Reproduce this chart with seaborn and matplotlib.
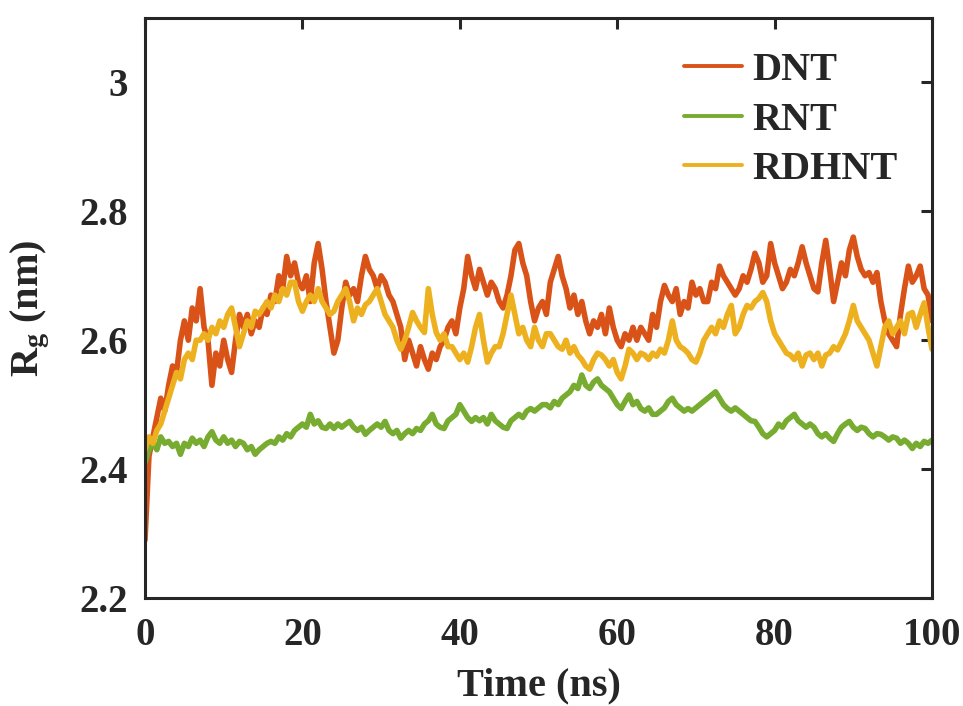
import numpy as np
import pandas as pd
import matplotlib
matplotlib.use("Agg")
import matplotlib.pyplot as plt
import seaborn as sns

# ---- data (Rg in nm, sampled every 0.5 ns) ----
dnt = [2.29, 2.42, 2.45, 2.48, 2.51, 2.49, 2.53, 2.56, 2.55, 2.60,
       2.63, 2.60, 2.65, 2.63, 2.68, 2.62, 2.60, 2.53, 2.58, 2.56,
       2.60, 2.57, 2.55, 2.60, 2.64, 2.62, 2.64, 2.61, 2.63, 2.62,
       2.65, 2.64, 2.67, 2.66, 2.70, 2.68, 2.73, 2.70, 2.72, 2.69,
       2.68, 2.70, 2.66, 2.72, 2.75, 2.71, 2.66, 2.62, 2.58, 2.60,
       2.65, 2.69, 2.67, 2.68, 2.66, 2.70, 2.73, 2.71, 2.70, 2.68,
       2.70, 2.69, 2.67, 2.66, 2.64, 2.62, 2.57, 2.60, 2.58, 2.56,
       2.59, 2.57, 2.555, 2.58, 2.57, 2.59, 2.60, 2.62, 2.63, 2.61,
       2.65, 2.68, 2.73, 2.70, 2.68, 2.71, 2.69, 2.67, 2.69, 2.68,
       2.66, 2.65, 2.67, 2.70, 2.74, 2.75, 2.72, 2.70, 2.66, 2.63,
       2.65, 2.66, 2.64, 2.69, 2.71, 2.73, 2.70, 2.68, 2.65, 2.67,
       2.64, 2.66, 2.63, 2.61, 2.63, 2.62, 2.64, 2.61, 2.65, 2.62,
       2.60, 2.59, 2.61, 2.60, 2.62, 2.60, 2.62, 2.61, 2.60, 2.64,
       2.62, 2.66, 2.685, 2.67, 2.66, 2.68, 2.64, 2.66, 2.65, 2.69,
       2.67, 2.68, 2.66, 2.66, 2.69, 2.68, 2.715, 2.70, 2.69, 2.68,
       2.67, 2.68, 2.70, 2.69, 2.71, 2.735, 2.72, 2.69, 2.70, 2.75,
       2.72, 2.70, 2.68, 2.69, 2.71, 2.70, 2.72, 2.745, 2.72, 2.70,
       2.68, 2.675, 2.72, 2.755, 2.71, 2.66, 2.69, 2.72, 2.70, 2.74,
       2.76, 2.73, 2.71, 2.70, 2.705, 2.69, 2.705, 2.66, 2.63, 2.61,
       2.60, 2.59, 2.64, 2.68, 2.715, 2.69, 2.70, 2.715, 2.68, 2.67,
       2.63]

rnt = [2.41, 2.43, 2.44, 2.43, 2.45, 2.44, 2.443, 2.435, 2.44, 2.423,
       2.44, 2.435, 2.448, 2.44, 2.445, 2.435, 2.45, 2.458, 2.445, 2.44,
       2.45, 2.44, 2.445, 2.435, 2.443, 2.44, 2.43, 2.435, 2.423, 2.43,
       2.435, 2.44, 2.443, 2.44, 2.45, 2.445, 2.455, 2.45, 2.46, 2.465,
       2.47, 2.465, 2.485, 2.47, 2.475, 2.465, 2.463, 2.47, 2.463, 2.47,
       2.465, 2.47, 2.474, 2.465, 2.46, 2.465, 2.454, 2.46, 2.465, 2.47,
       2.465, 2.474, 2.46, 2.455, 2.46, 2.448, 2.455, 2.46, 2.455, 2.463,
       2.46, 2.47, 2.475, 2.485, 2.47, 2.465, 2.463, 2.475, 2.48, 2.485,
       2.50, 2.49, 2.48, 2.474, 2.48, 2.475, 2.48, 2.47, 2.485, 2.475,
       2.47, 2.465, 2.463, 2.475, 2.48, 2.485, 2.48, 2.49, 2.494, 2.49,
       2.495, 2.50, 2.50, 2.495, 2.505, 2.50, 2.51, 2.515, 2.52, 2.53,
       2.525, 2.546, 2.53, 2.525, 2.535, 2.54, 2.53, 2.525, 2.52, 2.51,
       2.50, 2.494, 2.505, 2.515, 2.50, 2.505, 2.494, 2.49, 2.495, 2.485,
       2.485, 2.49, 2.495, 2.505, 2.51, 2.50, 2.495, 2.49, 2.494, 2.49,
       2.495, 2.50, 2.505, 2.51, 2.515, 2.52, 2.51, 2.50, 2.494, 2.49,
       2.495, 2.49, 2.485, 2.48, 2.475, 2.474, 2.465, 2.455, 2.45, 2.455,
       2.46, 2.47, 2.465, 2.475, 2.48, 2.485, 2.475, 2.47, 2.465, 2.47,
       2.465, 2.455, 2.45, 2.455, 2.448, 2.443, 2.455, 2.465, 2.47, 2.474,
       2.465, 2.46, 2.465, 2.463, 2.455, 2.45, 2.455, 2.454, 2.45, 2.445,
       2.45, 2.448, 2.44, 2.445, 2.44, 2.432, 2.44, 2.435, 2.443, 2.44,
       2.445]

rdhnt = [2.43, 2.45, 2.44, 2.46, 2.47, 2.49, 2.51, 2.53, 2.55, 2.54,
         2.57, 2.58, 2.57, 2.60, 2.60, 2.61, 2.60, 2.62, 2.61, 2.63,
         2.62, 2.64, 2.65, 2.62, 2.59, 2.61, 2.63, 2.62, 2.645, 2.64,
         2.65, 2.66, 2.65, 2.67, 2.66, 2.68, 2.67, 2.69, 2.69, 2.66,
         2.645, 2.66, 2.67, 2.66, 2.68, 2.66, 2.65, 2.64, 2.645, 2.66,
         2.67, 2.68, 2.66, 2.63, 2.65, 2.64, 2.655, 2.66, 2.67, 2.68,
         2.66, 2.64, 2.63, 2.62, 2.60, 2.586, 2.60, 2.62, 2.643, 2.63,
         2.62, 2.612, 2.68, 2.64, 2.612, 2.60, 2.61, 2.59, 2.59, 2.58,
         2.57, 2.58, 2.566, 2.59, 2.62, 2.64, 2.60, 2.566, 2.58, 2.59,
         2.59, 2.61, 2.64, 2.67, 2.64, 2.61, 2.62, 2.60, 2.59, 2.62,
         2.60, 2.59, 2.61, 2.61, 2.60, 2.59, 2.586, 2.60, 2.58, 2.59,
         2.577, 2.57, 2.56, 2.555, 2.57, 2.58, 2.577, 2.57, 2.56, 2.57,
         2.55, 2.54, 2.56, 2.586, 2.58, 2.57, 2.58, 2.577, 2.57, 2.58,
         2.575, 2.586, 2.58, 2.60, 2.63, 2.60, 2.59, 2.586, 2.58, 2.57,
         2.566, 2.58, 2.60, 2.61, 2.62, 2.61, 2.63, 2.62, 2.64, 2.654,
         2.61, 2.62, 2.64, 2.654, 2.65, 2.66, 2.665, 2.674, 2.66, 2.63,
         2.61, 2.60, 2.59, 2.58, 2.577, 2.57, 2.58, 2.56, 2.577, 2.58,
         2.57, 2.58, 2.56, 2.577, 2.58, 2.59, 2.585, 2.597, 2.61, 2.63,
         2.654, 2.63, 2.62, 2.61, 2.60, 2.58, 2.56, 2.59, 2.62, 2.63,
         2.61, 2.62, 2.63, 2.61, 2.64, 2.643, 2.62, 2.64, 2.658, 2.62,
         2.586]

series_names = ["DNT", "RNT", "RDHNT"]
colors = ["#D95319", "#77AC30", "#EDB120"]
xticks = [0, 20, 40, 60, 80, 100]
yticks = [2.2, 2.4, 2.6, 2.8, 3.0]
yticklabels = ["2.2", "2.4", "2.6", "2.8", "3"]

frames = []
for name, vals in zip(series_names, [dnt, rnt, rdhnt]):
    t = np.linspace(0, 100, len(vals))
    frames.append(pd.DataFrame({"Time": t, "Rg": vals, "System": name}))
df = pd.concat(frames, ignore_index=True)

sns.set_theme(style="white")
plt.rcParams["font.family"] = ["Liberation Serif", "DejaVu Serif"]
plt.rcParams["font.weight"] = "bold"
plt.rcParams["mathtext.fontset"] = "custom"
plt.rcParams["mathtext.rm"] = "Liberation Serif:bold"
plt.rcParams["mathtext.bf"] = "Liberation Serif:bold"
plt.rcParams["mathtext.it"] = "Liberation Serif:bold:italic"

fig = plt.figure(figsize=(9.63, 7.06), dpi=100)
ax = fig.add_axes([0.1506, 0.153, 0.8172, 0.8215])

sns.lineplot(data=df, x="Time", y="Rg", hue="System", hue_order=series_names,
             palette=colors, linewidth=4.0, estimator=None, sort=False, ax=ax)

ax.set_xlim(0, 100)
ax.set_ylim(2.2, 3.1)
ax.set_xticks(xticks)
ax.set_xticklabels([str(v) for v in xticks])
ax.set_yticks(yticks)
ax.set_yticklabels(yticklabels)
ax.tick_params(direction="in", length=8, width=2.2, top=True, right=True,
               labelsize=28, colors="#262626")
ax.tick_params(axis="y", pad=12)
ax.tick_params(axis="x", pad=14)
for lab in ax.get_xticklabels() + ax.get_yticklabels():
    lab.set_fontweight("bold")
for sp in ax.spines.values():
    sp.set_linewidth(2.2)
    sp.set_color("#262626")

ax.set_xlabel("Time (ns)", fontsize=29, fontweight="bold", color="#262626", labelpad=9)
ax.set_ylabel(r"R$_{\rm g}$ (nm)", fontsize=29, fontweight="bold", color="#262626", labelpad=20)

leg = ax.legend(loc="upper right", frameon=False, fontsize=29, handlelength=1.45,
                handletextpad=0.25, labelspacing=0.3, borderaxespad=0.45,
                bbox_to_anchor=(1.0, 1.0))
for line in leg.get_lines():
    line.set_linewidth(2.8)
for txt in leg.get_texts():
    txt.set_fontweight("bold")

fig.savefig("out.png", dpi=100, facecolor="white")
